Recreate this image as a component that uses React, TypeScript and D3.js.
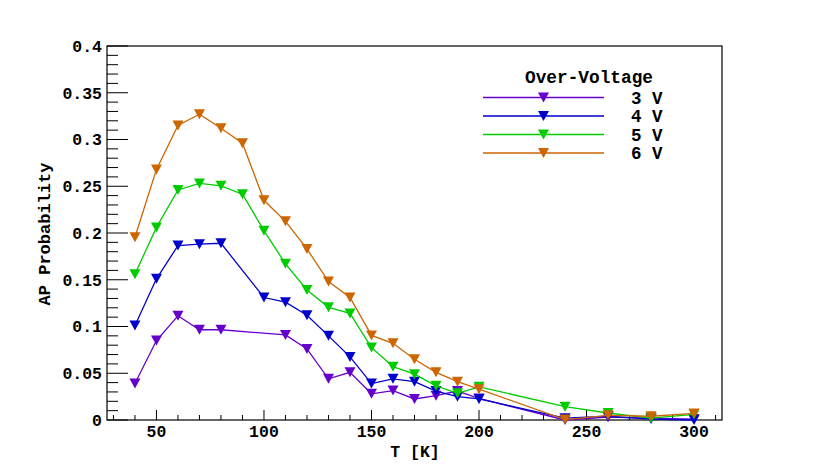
import React from "react";
import * as d3 from "d3";

const temps3 = [40, 50, 60, 70, 80, 110, 120, 130, 140, 150, 160, 170, 180, 190, 200, 240, 260, 280, 300];
const vals3 = [0.039, 0.085, 0.1115, 0.0965, 0.0965, 0.091, 0.076, 0.044, 0.051, 0.028, 0.0315, 0.0225, 0.026, 0.031, 0.023, 0.0, 0.003, 0.002, 0.001];

const temps4 = [40, 50, 60, 70, 80, 100, 110, 120, 130, 140, 150, 160, 170, 180, 190, 200, 240, 260, 280, 300];
const vals4 = [0.101, 0.151, 0.1865, 0.188, 0.189, 0.131, 0.126, 0.112, 0.09, 0.0675, 0.039, 0.044, 0.041, 0.031, 0.025, 0.0225, 0.002, 0.004, 0.001, 0.0];

const temps5 = [40, 50, 60, 70, 80, 90, 100, 110, 120, 130, 140, 150, 160, 170, 180, 190, 200, 240, 260, 280, 300];
const vals5 = [0.156, 0.206, 0.246, 0.253, 0.2505, 0.2415, 0.2025, 0.167, 0.139, 0.1205, 0.114, 0.0775, 0.057, 0.049, 0.0365, 0.0285, 0.0355, 0.0143, 0.0075, 0.002, 0.006];

const temps6 = [40, 50, 60, 70, 80, 90, 100, 110, 120, 130, 140, 150, 160, 170, 180, 190, 200, 240, 260, 280, 300];
const vals6 = [0.1955, 0.268, 0.315, 0.327, 0.312, 0.296, 0.235, 0.2125, 0.183, 0.148, 0.131, 0.0905, 0.082, 0.065, 0.051, 0.041, 0.033, 0.0005, 0.005, 0.004, 0.007];

const seriesLabels = ["3 V", "4 V", "5 V", "6 V"];
const seriesColors = ["#6600cc", "#0000cc", "#00cc00", "#cc6600"];

const xTickValues = [50, 100, 150, 200, 250, 300];
const yTickValues = [0, 0.05, 0.1, 0.15, 0.2, 0.25, 0.3, 0.35, 0.4];
const yTickLabels = ["0", "0.05", "0.1", "0.15", "0.2", "0.25", "0.3", "0.35", "0.4"];

const xTitle = "T [K]";
const yTitle = "AP Probability";
const legendTitle = "Over-Voltage";

const W = 830;
const H = 467;
const L = 107, R = 722, T = 46, B = 420;
const FONT = "'Liberation Mono', 'DejaVu Sans Mono', monospace";

export default function App() {
  const x = d3.scaleLinear().domain([27, 313]).range([L, R]);
  const y = d3.scaleLinear().domain([0, 0.4]).range([B, T]);

  const series = [
    { t: temps3, v: vals3 },
    { t: temps4, v: vals4 },
    { t: temps5, v: vals5 },
    { t: temps6, v: vals6 },
  ];

  const line = d3
    .line<[number, number]>()
    .x((d) => x(d[0]))
    .y((d) => y(d[1]));

  const tri = (cx: number, cy: number) => {
    const w = 5.5, h = 5;
    return `M${cx - w},${cy - h}L${cx + w},${cy - h}L${cx},${cy + h}Z`;
  };

  const xMinor = d3.range(30, 311, 10);
  const yMinor = d3.range(0, 0.4001, 0.01);

  const legendEntryY = [97.5, 116, 134.5, 153];

  return (
    <svg
      width={W}
      height={H}
      style={{ position: "absolute", left: 0, top: 0, background: "#fff" }}
      fontFamily={FONT}
      fontWeight="bold"
    >
      <rect x={0} y={0} width={W} height={H} fill="#fff" />
      {/* frame */}
      <rect x={L} y={T} width={R - L} height={B - T} fill="none" stroke="#000" strokeWidth={1.2} />
      {/* x ticks */}
      {xMinor.map((v) => {
        const major = v % 50 === 0;
        return (
          <line key={"xm" + v} x1={x(v)} x2={x(v)} y1={B} y2={B - (major ? 10 : 5)} stroke="#000" strokeWidth={1} />
        );
      })}
      {xTickValues.map((v) => (
        <text key={"xt" + v} x={x(v)} y={437} textAnchor="middle" fontSize={16.5} fill="#000">
          {String(v)}
        </text>
      ))}
      {/* y ticks */}
      {yMinor.map((v, i) => {
        const major = i % 5 === 0;
        return (
          <line key={"ym" + i} x1={L} x2={L + (major ? 21 : 11)} y1={y(v)} y2={y(v)} stroke="#000" strokeWidth={1} />
        );
      })}
      {yTickValues.map((v, i) => (
        <text key={"yt" + i} x={102} y={y(v)} dy="0.35em" textAnchor="end" fontSize={16.5} fill="#000">
          {yTickLabels[i]}
        </text>
      ))}
      <text x={415} y={457} textAnchor="middle" fontSize={16.5} fill="#000">
        {xTitle}
      </text>
      <text
        transform={`translate(50,234) rotate(-90)`}
        textAnchor="middle"
        fontSize={17}
        fill="#000"
      >
        {yTitle}
      </text>
      {/* series */}
      {series.map((s, si) => {
        const pts: [number, number][] = s.t.map((t, i) => [t, s.v[i]]);
        return (
          <g key={"s" + si}>
            <path d={line(pts) || ""} fill="none" stroke={seriesColors[si]} strokeWidth={1.3} />
            {pts.map((p, i) => (
              <path key={i} d={tri(x(p[0]), y(p[1]))} fill={seriesColors[si]} />
            ))}
          </g>
        );
      })}
      {/* legend */}
      <text x={589} y={83} textAnchor="middle" fontSize={17.8} fill="#000">
        {legendTitle}
      </text>
      {seriesLabels.map((lab, i) => (
        <g key={"lg" + i}>
          <line x1={483} x2={604} y1={legendEntryY[i]} y2={legendEntryY[i]} stroke={seriesColors[i]} strokeWidth={1.3} />
          <path d={tri(543.5, legendEntryY[i])} fill={seriesColors[i]} />
          <text x={631} y={legendEntryY[i]} dy="0.35em" fontSize={17.5} fill="#000">
            {lab}
          </text>
        </g>
      ))}
    </svg>
  );
}
